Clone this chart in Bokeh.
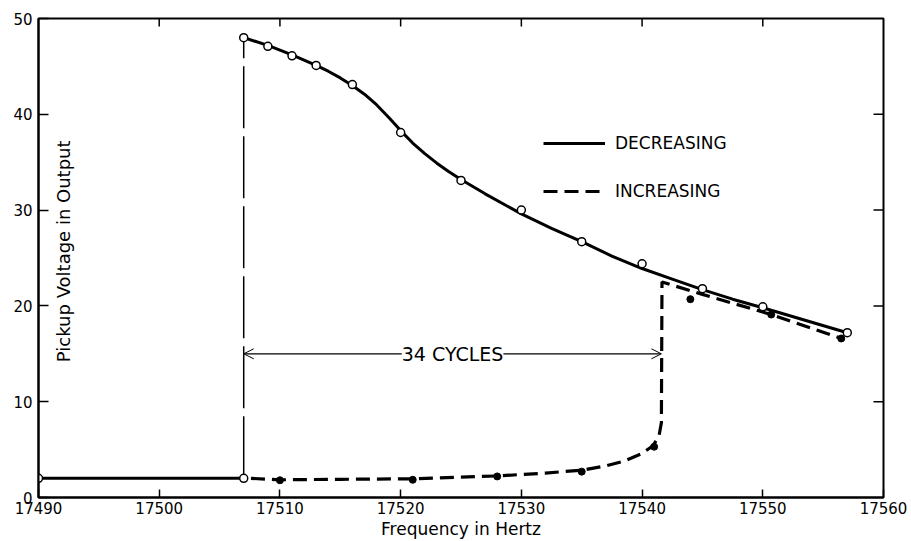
import math
from bokeh.plotting import figure
from bokeh.models import (Range1d, FixedTicker, Legend, LegendItem,
                          Arrow, OpenHead, Label, BasicTickFormatter)
from bokeh.embed import file_html
from bokeh.resources import INLINE

# ---------------- data ----------------
x_ticks = [17490, 17500, 17510, 17520, 17530, 17540, 17550, 17560]
y_ticks = [0, 10, 20, 30, 40, 50]

# decreasing sweep: low flat branch (open circles)
dec_low_freq = [17490, 17507]
dec_low_v = [2.0, 2.0]

# decreasing sweep: upper branch measured points (open circles)
dec_freq = [17507, 17509, 17511, 17513, 17516, 17520, 17525, 17530,
            17535, 17540, 17545, 17550, 17557]
dec_v = [48.0, 47.1, 46.1, 45.1, 43.1, 38.1, 33.1, 30.0,
         26.7, 24.4, 21.8, 19.9, 17.2]

# decreasing sweep: drawn (faired) curve
dec_curve_freq = [17507, 17509, 17511, 17513, 17514, 17515, 17516, 17517,
                  17518, 17519, 17520, 17521, 17522, 17523, 17524, 17525,
                  17527, 17530, 17532.5, 17535, 17537.5, 17540, 17542.5,
                  17545, 17547.5, 17550, 17553.5, 17557]
dec_curve_v = [48.0, 47.2, 46.2, 45.1, 44.5, 43.8, 43.0, 42.1,
               41.0, 39.7, 38.3, 37.0, 35.9, 34.9, 34.0, 33.2,
               31.7, 29.6, 28.1, 26.7, 25.2, 23.9, 22.8,
               21.7, 20.7, 19.8, 18.5, 17.2]

# increasing sweep: measured points (filled dots)
inc_freq = [17510, 17521, 17528, 17535, 17541, 17544, 17550.7, 17556.5]
inc_v = [1.8, 1.85, 2.2, 2.7, 5.3, 20.7, 19.1, 16.6]

# increasing sweep: drawn (faired) dashed curve
inc_curve_freq = [17507.6, 17510, 17515, 17521, 17528, 17532, 17535, 17537,
                  17538.5, 17540, 17540.9, 17541.4, 17541.6, 17541.65,
                  17545, 17550.7, 17556.5]
inc_curve_v = [2.0, 1.85, 1.9, 1.95, 2.25, 2.55, 2.85, 3.3,
               3.8, 4.6, 5.4, 6.4, 7.8, 22.5,
               21.2, 19.1, 16.6]

# jump frequencies (34 cycles apart) and annotation level
jump_down_freq = 17507
jump_up_freq = 17541.6
span_level = 15
span_text = "34 CYCLES"

FONT = "DejaVu Sans"

# ---------------- figure ----------------
p = figure(width=911, height=541,
           x_range=Range1d(x_ticks[0], x_ticks[-1]),
           y_range=Range1d(y_ticks[0], y_ticks[-1]),
           output_backend="svg", toolbar_location=None,
           min_border_left=38, min_border_right=28,
           min_border_top=18, min_border_bottom=43)
p.background_fill_color = "white"
p.border_fill_color = "white"
p.grid.visible = False
p.outline_line_color = "black"
p.outline_line_width = 2

# main axes
p.xaxis.ticker = FixedTicker(ticks=x_ticks)
p.yaxis.ticker = FixedTicker(ticks=y_ticks)
p.xaxis.formatter = BasicTickFormatter(use_scientific=False)
for ax in (p.xaxis[0], p.yaxis[0]):
    ax.axis_line_color = "black"
    ax.axis_line_width = 2
    ax.major_tick_out = 0
    ax.major_tick_line_width = 1.5
    ax.minor_tick_line_color = None
    ax.major_label_text_font = FONT
    ax.major_label_text_font_size = "15px"
    ax.major_label_text_color = "black"
p.xaxis.major_tick_in = 8
p.yaxis.major_tick_in = 10
p.xaxis.major_label_standoff = 4
p.yaxis.major_label_standoff = 6
p.xaxis.axis_label = "Frequency in Hertz"
p.xaxis.axis_label_text_font = FONT
p.xaxis.axis_label_text_font_size = "17px"
p.xaxis.axis_label_text_font_style = "normal"
p.xaxis.axis_label_text_color = "black"
p.xaxis.axis_label_standoff = 2

# inward tick marks on the top and right edges (half of each dash is clipped)
p.scatter(x_ticks[1:-1], [y_ticks[-1]] * len(x_ticks[1:-1]), marker="dash",
          size=16, angle=math.pi / 2, line_color="black", line_width=1.5)
p.scatter([x_ticks[-1]] * len(y_ticks[1:-1]), y_ticks[1:-1], marker="dash",
          size=20, line_color="black", line_width=1.5)

# ---------------- curves ----------------
# thin dashed jump at the lower jump frequency
p.line([dec_freq[0], dec_freq[0]], [dec_low_v[-1], dec_v[0]],
       line_color="black", line_width=1.5, line_dash="62 8")

# flat low branch (solid)
p.line(dec_low_freq, dec_low_v, line_color="black", line_width=3)

# decreasing curve (solid)
r_dec = p.line(dec_curve_freq, dec_curve_v, line_color="black", line_width=3,
               line_join="round")

# increasing curve (dashed)
r_inc = p.line(inc_curve_freq, inc_curve_v, line_color="black", line_width=3.2,
               line_dash="14 7")

# markers
p.scatter(dec_low_freq, dec_low_v, marker="circle", size=8,
          fill_color="white", line_color="black", line_width=1.5)
p.scatter(dec_freq, dec_v, marker="circle", size=8,
          fill_color="white", line_color="black", line_width=1.5)
p.scatter(inc_freq, inc_v, marker="circle", size=7,
          fill_color="black", line_color="black")

# ---------------- 34 cycles annotation ----------------
p.add_layout(Arrow(start=OpenHead(size=10, line_width=1, line_color="black"),
                   end=OpenHead(size=10, line_width=1, line_color="black"),
                   x_start=jump_down_freq, x_end=jump_up_freq,
                   y_start=span_level, y_end=span_level,
                   line_color="black", line_width=1.2))
p.add_layout(Label(x=(jump_down_freq + jump_up_freq) / 2, y=span_level,
                   text=span_text, text_align="center", text_baseline="middle",
                   text_font=FONT, text_font_size="19px", text_color="black",
                   background_fill_color="white"))

# y axis title drawn inside the frame
p.add_layout(Label(x=17492.1, y=25.7, angle=math.pi / 2, text="Pickup Voltage in Output",
                   text_align="center", text_baseline="middle",
                   text_font=FONT, text_font_size="18px", text_color="black"))

# ---------------- legend ----------------
legend = Legend(items=[LegendItem(label="DECREASING", renderers=[r_dec]),
                       LegendItem(label="INCREASING", renderers=[r_inc])],
                location=(505, 296), orientation="vertical",
                glyph_width=62, glyph_height=20, label_height=20,
                label_standoff=10, spacing=28, padding=0, margin=0,
                border_line_alpha=0, background_fill_alpha=0,
                label_text_font=FONT, label_text_font_size="17px",
                label_text_color="black")
p.add_layout(legend)

open("out.html", "w").write(file_html(p, INLINE))
